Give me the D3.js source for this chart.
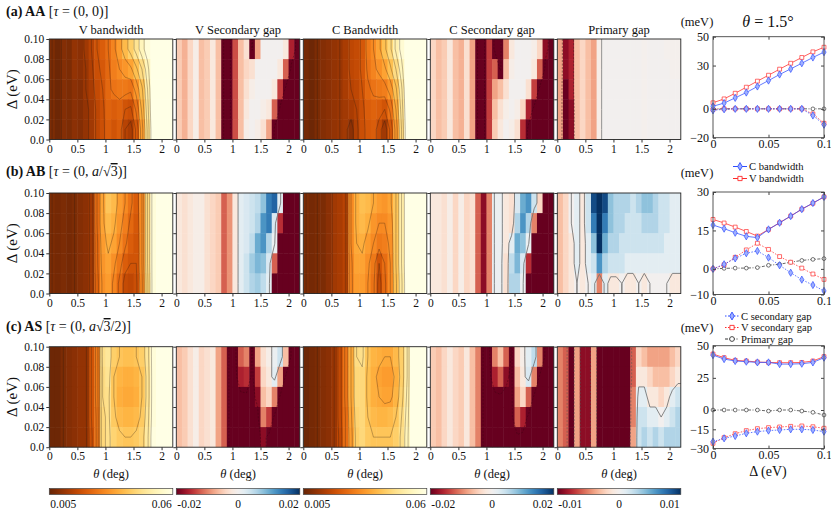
<!DOCTYPE html>
<html><head><meta charset="utf-8">
<script src="https://cdn.jsdelivr.net/npm/d3@7"></script>
<style>
body{margin:0;background:#fff;}
svg text{font-family:"Liberation Serif","DejaVu Serif",serif;fill:#111;}
</style></head><body>
<svg id="fig" width="831" height="510"></svg>
<script>
// ---------- data ----------
// heatmap cells: left edge of each theta cell (deg), bottom edge of each Delta row (eV), top row first
const thetaCells = [0,0.1,0.2,0.3,0.4,0.5,0.6,0.7,0.8,0.9,1.0,1.1,1.2,1.3,1.4,1.5,1.6,1.7,1.8,1.9,2.0,2.1];
const deltaCells = [0.08,0.06,0.04,0.02,0.0];
const thetaTicks = [0,0.5,1,1.5,2];
const thetaTickLabels = ["0","0.5","1","1.5","2"];
const deltaTicks = [0,0.02,0.04,0.06,0.08,0.1];
const deltaTickLabels = ["0.0","0.02","0.04","0.06","0.08","0.10"];
const panelTitles = ["V bandwidth","V Secondary gap","C Bandwidth","C Secondary gap","Primary gap"];

// (a) AA
const vbwAA = [
 [.008,.006,.009,.008,.011,.010,.013,.016,.020,.022,.025,.029,.033,.038,.042,.047,.053,.058,.064,.07,.07,.07],
 [.008,.006,.009,.008,.011,.010,.012,.015,.019,.021,.024,.028,.030,.032,.034,.039,.045,.053,.063,.07,.07,.07],
 [.008,.006,.009,.008,.010,.009,.012,.014,.018,.020,.024,.026,.027,.027,.026,.032,.039,.050,.062,.07,.07,.07],
 [.008,.006,.009,.008,.010,.009,.011,.013,.017,.019,.023,.022,.023,.020,.019,.026,.036,.048,.062,.07,.07,.07],
 [.008,.006,.009,.008,.010,.009,.011,.013,.017,.019,.022,.020,.022,.016,.014,.021,.033,.046,.061,.07,.07,.07]];
const vsgAA = [
 [-.005,-.007,-.004,-.001,-.006,-.005,-.002,-.006,-.02,-.02,-.013,-.006,-.003,-.02,-.008,0,0,0,0,-.002,-.016,-.02],
 [-.005,-.007,-.004,-.001,-.006,-.005,-.002,-.006,-.02,-.02,-.013,-.006,-.004,-.003,0,0,0,0,-.002,-.012,-.02,-.02],
 [-.005,-.007,-.004,-.001,-.006,-.005,-.002,-.006,-.02,-.02,-.013,-.006,-.003,-.001,0,0,0,-.002,-.014,-.02,-.02,-.02],
 [-.005,-.007,-.004,-.001,-.006,-.005,-.002,-.006,-.02,-.02,-.013,-.006,-.002,0,0,-.001,-.002,-.012,-.02,-.02,-.02,-.02],
 [-.005,-.007,-.004,-.001,-.006,-.005,-.002,-.006,-.02,-.02,-.013,-.006,-.001,0,-.001,-.003,-.008,-.02,-.02,-.02,-.02,-.02]];
const cbwAA = [
 [.007,.006,.008,.009,.010,.011,.012,.014,.017,.018,.021,.027,.030,.034,.039,.044,.051,.057,.064,.07,.07,.07],
 [.007,.006,.008,.009,.010,.011,.012,.014,.017,.018,.021,.026,.029,.031,.034,.039,.045,.053,.063,.07,.07,.07],
 [.007,.006,.008,.009,.010,.011,.012,.014,.016,.017,.020,.024,.026,.027,.028,.032,.039,.049,.062,.07,.07,.07],
 [.007,.006,.008,.009,.010,.011,.012,.013,.014,.016,.019,.022,.023,.022,.020,.026,.035,.047,.061,.07,.07,.07],
 [.007,.006,.008,.009,.010,.011,.012,.013,.010,.015,.019,.021,.022,.018,.013,.021,.032,.045,.060,.07,.07,.07]];
const csgAA = [
 [-.004,-.006,-.005,-.002,-.006,-.007,-.003,-.008,-.02,-.02,-.014,-.02,-.02,-.01,-.002,0,0,0,-.001,-.004,-.018,-.02],
 [-.004,-.006,-.005,-.002,-.006,-.007,-.003,-.008,-.02,-.02,-.014,-.012,-.02,-.006,-.001,0,0,0,-.002,-.012,-.02,-.02],
 [-.004,-.006,-.005,-.002,-.006,-.007,-.003,-.008,-.02,-.02,-.014,-.008,-.006,-.003,0,0,0,-.003,-.014,-.02,-.02,-.02],
 [-.004,-.006,-.005,-.002,-.006,-.007,-.003,-.008,-.02,-.02,-.014,-.006,-.003,-.001,0,-.001,-.004,-.016,-.02,-.02,-.02,-.02],
 [-.004,-.006,-.005,-.002,-.006,-.007,-.003,-.008,-.02,-.02,-.014,-.005,-.002,0,-.001,-.003,-.015,-.02,-.02,-.02,-.02,-.02]];
const pgAA = [
 [-.004,-.009,-.008,-.003,-.002,-.003,-.004,-.0005,0,0,0,0,0,0,0,-.0002,0,0,0,-.0002,-.0002,-.0002],
 [-.004,-.009,-.008,-.003,-.002,-.003,-.004,-.0005,0,0,0,0,0,0,0,-.0002,0,0,0,0,-.0002,-.0002],
 [-.004,-.010,-.008,-.003,-.002,-.003,-.004,-.0005,0,0,0,0,0,0,0,-.0002,0,0,0,0,0,0],
 [-.004,-.010,-.009,-.003,-.002,-.003,-.004,-.0005,0,0,0,0,0,0,0,-.0002,0,0,0,0,0,0],
 [-.004,-.010,-.009,-.003,-.002,-.003,-.004,-.0005,0,0,0,0,0,0,0,-.0002,0,0,0,0,0,0]];

// (b) AB
const vbwAB = [
 [.008,.007,.008,.007,.008,.009,.010,.013,.025,.034,.040,.038,.033,.030,.026,.022,.030,.045,.058,.07,.07,.07],
 [.008,.007,.008,.007,.008,.009,.010,.013,.025,.034,.038,.036,.032,.028,.024,.021,.030,.045,.058,.07,.07,.07],
 [.008,.007,.008,.007,.008,.009,.010,.013,.024,.033,.036,.034,.030,.026,.022,.020,.030,.045,.058,.07,.07,.07],
 [.008,.007,.008,.007,.008,.009,.010,.013,.024,.032,.034,.031,.027,.022,.020,.020,.030,.045,.058,.07,.07,.07],
 [.008,.007,.008,.007,.008,.009,.010,.013,.023,.031,.033,.029,.024,.018,.017,.019,.029,.044,.058,.07,.07,.07]];
const vsgAB = [
 [-.002,-.003,-.002,-.001,-.001,-.003,-.004,-.005,-.012,-.009,-.002,.002,.003,.004,.005,.008,.014,.016,.002,-.02,-.02,-.02],
 [-.002,-.003,-.002,-.001,-.001,-.003,-.004,-.005,-.012,-.009,-.002,.002,.003,.004,.006,.012,.014,.003,-.015,-.02,-.02,-.02],
 [-.002,-.003,-.002,-.001,-.001,-.003,-.004,-.005,-.012,-.009,-.002,.002,.003,.005,.010,.012,.006,.001,-.02,-.02,-.02,-.02],
 [-.002,-.003,-.002,-.001,-.001,-.003,-.004,-.005,-.012,-.009,-.002,.002,.004,.007,.009,.008,.003,-.012,-.02,-.02,-.02,-.02],
 [-.002,-.003,-.002,-.001,-.001,-.003,-.004,-.005,-.012,-.009,-.002,.002,.004,.006,.007,.005,.002,-.02,-.02,-.02,-.02,-.02]];
const cbwAB = [
 [.008,.007,.008,.008,.010,.013,.014,.016,.030,.036,.039,.038,.035,.033,.032,.034,.040,.050,.060,.07,.07,.07],
 [.008,.007,.008,.008,.010,.013,.014,.016,.030,.036,.038,.036,.032,.030,.030,.032,.040,.050,.060,.07,.07,.07],
 [.008,.007,.008,.008,.010,.013,.014,.016,.030,.035,.036,.033,.030,.027,.028,.031,.040,.050,.060,.07,.07,.07],
 [.008,.007,.008,.008,.010,.013,.014,.016,.029,.034,.034,.031,.027,.020,.025,.030,.040,.050,.060,.07,.07,.07],
 [.008,.007,.008,.008,.010,.013,.014,.016,.029,.033,.033,.030,.026,.018,.024,.030,.039,.049,.060,.07,.07,.07]];
const csgAB = [
 [-.002,-.002,-.003,-.001,-.004,-.001,-.004,-.003,-.012,-.018,-.010,.001,.001,-.002,-.003,.003,.010,.012,.004,-.004,-.02,-.02],
 [-.002,-.002,-.003,-.001,-.004,-.001,-.004,-.003,-.012,-.018,-.010,.001,.001,-.002,-.003,.006,.012,.006,-.01,-.02,-.02,-.02],
 [-.002,-.002,-.003,-.001,-.004,-.001,-.004,-.003,-.012,-.018,-.010,.001,.001,-.002,.002,.010,.008,.001,-.02,-.02,-.02,-.02],
 [-.002,-.002,-.003,-.001,-.004,-.001,-.004,-.003,-.012,-.018,-.010,.001,.001,-.003,.005,.009,.003,-.015,-.02,-.02,-.02,-.02],
 [-.002,-.002,-.003,-.001,-.004,-.001,-.004,-.003,-.012,-.018,-.010,.001,.001,-.003,.006,.006,.001,-.02,-.02,-.02,-.02,-.02]];
const pgAB = [
 [-.003,-.002,.000,.001,-.001,.002,.009,.010,.009,.004,.003,.003,.003,.002,.003,.004,.004,.003,.002,.002,.001,.001],
 [-.003,-.002,.000,.001,-.001,.002,.007,.010,.007,.004,.003,.003,.002,.002,.002,.003,.003,.003,.002,.002,.001,.001],
 [-.003,-.002,-.001,.001,-.001,.001,.004,.010,.005,.003,.003,.002,.002,.002,.002,.002,.002,.002,.002,.001,.001,.001],
 [-.003,-.002,-.001,.001,-.001,.001,.002,.006,.003,.002,.002,.002,.001,.001,.001,.001,.001,.001,.001,.001,.001,.001],
 [-.003,-.002,-.001,.000,-.001,.000,.001,-.005,.001,-.001,-.001,.000,-.001,-.001,.000,-.001,.000,.000,.000,.000,-.001,-.001]];

// (c) AS
const vbwAS = [
 [.006,.006,.008,.009,.010,.011,.011,.020,.027,.046,.048,.042,.040,.039,.039,.040,.042,.048,.058,.07,.07,.07],
 [.006,.006,.008,.009,.010,.011,.011,.020,.027,.045,.047,.040,.037,.036,.036,.037,.040,.047,.058,.07,.07,.07],
 [.006,.006,.008,.009,.010,.011,.011,.020,.027,.045,.046,.040,.036,.035,.035,.036,.040,.047,.058,.07,.07,.07],
 [.006,.006,.008,.009,.010,.011,.011,.020,.026,.044,.046,.041,.038,.037,.037,.038,.041,.048,.058,.07,.07,.07],
 [.006,.006,.008,.009,.010,.011,.011,.019,.026,.044,.046,.043,.041,.040,.040,.041,.043,.049,.059,.07,.07,.07]];
const vsgAS = [
 [-.006,-.005,-.003,-.001,-.004,-.003,-.002,-.008,-.012,-.02,-.02,-.012,-.01,-.02,-.008,-.003,-.001,.001,.004,-.006,-.02,-.02],
 [-.006,-.005,-.003,-.001,-.004,-.003,-.002,-.008,-.012,-.02,-.02,-.016,-.015,-.02,-.014,-.004,-.002,.002,-.008,-.02,-.02,-.02],
 [-.006,-.005,-.003,-.001,-.004,-.003,-.002,-.008,-.012,-.02,-.02,-.02,-.02,-.02,-.018,-.006,-.004,-.01,-.02,-.02,-.02,-.02],
 [-.006,-.005,-.003,-.001,-.004,-.003,-.002,-.008,-.012,-.02,-.02,-.02,-.02,-.02,-.02,-.01,-.014,-.02,-.02,-.02,-.02,-.02],
 [-.006,-.005,-.003,-.001,-.004,-.003,-.002,-.008,-.012,-.02,-.02,-.02,-.02,-.02,-.02,-.018,-.02,-.02,-.02,-.02,-.02,-.02]];
const cbwAS = [
 [.006,.007,.008,.009,.010,.012,.018,.026,.035,.045,.046,.040,.037,.036,.035,.035,.038,.042,.050,.065,.07,.07],
 [.006,.007,.008,.009,.010,.012,.018,.026,.035,.044,.044,.039,.036,.034,.033,.033,.036,.042,.050,.065,.07,.07],
 [.006,.007,.008,.009,.010,.012,.018,.026,.035,.044,.044,.039,.036,.035,.034,.034,.037,.043,.051,.065,.07,.07],
 [.006,.007,.008,.009,.010,.012,.018,.025,.034,.043,.044,.040,.038,.037,.037,.038,.040,.045,.052,.065,.07,.07],
 [.006,.007,.008,.009,.010,.012,.017,.025,.033,.042,.044,.041,.040,.040,.040,.040,.042,.046,.053,.065,.07,.07]];
const csgAS = [
 [-.005,-.006,-.004,-.002,-.004,-.005,-.002,-.006,-.01,-.02,-.02,-.01,-.006,-.012,-.02,-.004,-.001,.002,.005,-.01,-.02,-.02],
 [-.005,-.006,-.004,-.002,-.004,-.005,-.002,-.006,-.01,-.02,-.02,-.016,-.012,-.018,-.02,-.006,-.002,.003,-.01,-.02,-.02,-.02],
 [-.005,-.006,-.004,-.002,-.004,-.005,-.002,-.006,-.01,-.02,-.02,-.02,-.02,-.02,-.02,-.008,-.004,-.012,-.02,-.02,-.02,-.02],
 [-.005,-.006,-.004,-.002,-.004,-.005,-.002,-.006,-.01,-.02,-.02,-.02,-.02,-.02,-.02,-.012,-.016,-.02,-.02,-.02,-.02,-.02],
 [-.005,-.006,-.004,-.002,-.004,-.005,-.002,-.006,-.01,-.02,-.02,-.02,-.02,-.02,-.02,-.02,-.02,-.02,-.02,-.02,-.02,-.02]];
const pgAS = [
 [-.005,-.006,-.01,-.004,-.009,-.009,-.004,-.01,-.01,-.01,-.01,-.01,-.01,-.006,-.002,-.003,-.004,-.004,-.004,-.004,-.003,-.002],
 [-.005,-.006,-.01,-.004,-.009,-.009,-.004,-.01,-.01,-.01,-.01,-.01,-.01,-.006,-.001,-.001,-.002,-.003,-.003,-.003,-.002,-.001],
 [-.005,-.006,-.01,-.004,-.009,-.009,-.004,-.01,-.01,-.01,-.01,-.01,-.01,-.005,.001,.001,-.001,-.001,-.002,-.001,.001,.002],
 [-.005,-.006,-.01,-.004,-.009,-.009,-.004,-.01,-.01,-.01,-.01,-.01,-.01,-.005,.002,.002,.001,.001,.000,.001,.002,.003],
 [-.005,-.006,-.01,-.004,-.009,-.009,-.004,-.01,-.01,-.01,-.01,-.01,-.01,-.004,.002,.003,.002,.003,.002,.003,.003,.003]];

// right column, theta = 1.5 deg, values in meV
const deltaVals = [0,0.01,0.02,0.03,0.04,0.05,0.06,0.07,0.08,0.09,0.1];
const cBwAA = [1.8,4,7.6,11.3,15.5,19.6,23.8,27.7,31.6,35.6,39.3];
const vBwAA = [4.2,6.9,10.8,15,19.2,23.3,27.5,31.6,35.6,39.5,42.7];
const cSgAA = [-1,-0.3,0,0,0,0,0,0,0,-4.6,-11];
const vSgAA = [-0.5,0,0,0,0,0,0,0,0,-3.5,-10];
const pGapAA = [0,0,0,0,0,0,0,0,0,0,0];
const cBwAB = [17.1,15.7,14.1,12.7,12.2,15.4,18,20.6,23.3,25.7,28.1];
const vBwAB = [19.3,17.9,16.3,14.6,12.8,15.4,18,20.6,23.3,25.6,28.1];
const cSgAB = [0,1.8,4.1,6.1,7,4.4,1.4,-1.5,-4.2,-6.3,-8.6];
const vSgAB = [0,1.6,4.5,7.4,10,7.6,4.8,2.6,0.3,-2,-4.1];
const pGapAB = [0,0.2,0.3,0.3,0.5,1.4,1.8,2.6,3.3,3.7,4];
const cBwAS = [42.7,39.6,38.1,37.6,37,37,35.7,35.7,36,37,40.7];
const vBwAS = [43.5,40.7,38.6,38.1,37.3,37,36.8,36.8,37,38.1,41.5];
const cSgAS = [-24.6,-22,-20.2,-18.1,-16.8,-16,-15.5,-15,-15,-15.5,-16.8];
const vSgAS = [-25.9,-21.5,-18.4,-16,-14.5,-13.7,-13.2,-12.7,-12.4,-13,-14.2];
const pGapAS = [0,0,0,0,0,-0.8,0,0,-0.8,-1.8,-3.9];
const meVDomains = [[-20,50],[-10,30],[-30,50]];
const meVTicks = [[50,30,0,-20],[30,15,0,-10],[50,25,0,-15,-30]];
const deltaLineTicks = [0,0.05,0.1];
const deltaLineTickLabels = ["0","0.05","0.1"];

const colorbarLabels = {
  bw: ["0.005","","0.06"],
  sg: ["-0.02","0","0.02"],
  pg: ["-0.01","0","0.01"]
};

// ---------- layout / style ----------
const panelLeft = [49.3,176.3,303.3,430.3,557.3];
const panelW = 123.5, panelH = 100.5;
const rowTop = [39,193,346.7];
const kinds = ["bw","sg","bw","sg","pg"];
const lineLeft = 713, lineRight = 824;
const lineTop = [36.7,192,345.7], lineBottom = [137.7,294.5,448.6];
const blue = "#2f4dff", red = "#ff2a2a";

const rows = [
  {grids:[vbwAA,vsgAA,cbwAA,csgAA,pgAA],
   lines:{cBw:cBwAA,vBw:vBwAA,cSg:cSgAA,vSg:vSgAA,pGap:pGapAA}},
  {grids:[vbwAB,vsgAB,cbwAB,csgAB,pgAB],
   lines:{cBw:cBwAB,vBw:vBwAB,cSg:cSgAB,vSg:vSgAB,pGap:pGapAB}},
  {grids:[vbwAS,vsgAS,cbwAS,csgAS,pgAS],
   lines:{cBw:cBwAS,vBw:vBwAS,cSg:cSgAS,vSg:vSgAS,pGap:pGapAS}}
];

// contour levels per row/kind
const bwLevels = [0.008,0.012,0.016,0.02,0.025,0.03,0.035,0.04,0.045,0.05,0.055];
const contourSpec = [
  {bw:[{t:bwLevels,c:"#2a1a10",w:0.6,o:0.5}],
   sg:[{t:[-0.019],c:"#3a0010",w:0.6,o:0.7,dash:"2,1.5"}],
   pg:[{t:[-0.0003],c:"#888",w:0.9,o:1},{t:[-0.006],c:"#442222",w:0.7,o:0.8,dash:"2,1.5"}]},
  {bw:[{t:bwLevels,c:"#2a1a10",w:0.6,o:0.5}],
   sg:[{t:[0],c:"#777",w:0.9,o:1}],
   pg:[{t:[0],c:"#777",w:0.9,o:1}]},
  {bw:[{t:bwLevels,c:"#2a1a10",w:0.6,o:0.5}],
   sg:[{t:[0],c:"#777",w:0.9,o:1},{t:[-0.019],c:"#3a0010",w:0.6,o:0.7,dash:"2,1.5"}],
   pg:[{t:[0],c:"#777",w:0.9,o:1},{t:[-0.007],c:"#555",w:0.7,o:0.8,dash:"2,1.5"}]}
];

const colorScales = {
  bw: d3.scaleSequential(t => d3.interpolateYlOrBr(1 - t)).domain([0.005,0.06]).clamp(true),
  sg: d3.scaleSequential(d3.interpolateRdBu).domain([-0.02,0.02]).clamp(true),
  pg: d3.scaleSequential(d3.interpolateRdBu).domain([-0.01,0.01]).clamp(true)
};

const svg = d3.select("#fig");
const defs = svg.append("defs");

// ---------- row titles ----------
const rowTitleY = [16,176,331];
const rowTitleParts = [
  [["(a) AA","b"],[" [",""],["τ","i"],[" = (0, 0)]",""]],
  [["(b) AB","b"],[" [",""],["τ","i"],[" = (0, ",""],["a","i"],["/√",""],["3","o"],[")]",""]],
  [["(c) AS","b"],[" [",""],["τ","i"],[" = (0, ",""],["a","i"],["√",""],["3","o"],["/2)]",""]]
];
rowTitleParts.forEach((parts, r) => {
  const t = svg.append("text").attr("x", 6).attr("y", rowTitleY[r]).attr("font-size", 14);
  parts.forEach(([s, st]) => {
    const ts = t.append("tspan").text(s);
    if (st === "b") ts.attr("font-weight", "bold");
    if (st === "i") ts.attr("font-style", "italic");
    if (st === "o") ts.style("text-decoration", "overline");
  });
});

// pad the grid with copies of its edge cells so contour outlines fall outside the frame
function padGrid(grid) {
  const wide = grid.map(rw => [rw[0]].concat(rw, [rw[rw.length - 1]]));
  return [wide[0]].concat(wide, [wide[wide.length - 1]]);
}

// ---------- heatmaps ----------
function drawHeat(r, c) {
  const grid = rows[r].grids[c];
  const kind = kinds[c];
  const color = colorScales[kind];
  const x = d3.scaleLinear().domain([0,2.2]).range([panelLeft[c], panelLeft[c] + panelW]);
  const y = d3.scaleLinear().domain([0,0.1]).range([rowTop[r] + panelH, rowTop[r]]);
  const g = svg.append("g");
  const clipId = "clip" + r + "_" + c;
  defs.append("clipPath").attr("id", clipId).append("rect")
    .attr("x", x(0)).attr("y", y(0.1)).attr("width", x(2.2) - x(0)).attr("height", y(0) - y(0.1));
  const inner = g.append("g").attr("clip-path", "url(#" + clipId + ")");

  const cw = x(0.1) - x(0), ch = y(0) - y(0.02);
  grid.forEach((rowVals, i) => {
    inner.selectAll(null).data(rowVals).enter().append("rect")
      .attr("x", (d, j) => x(thetaCells[j]))
      .attr("y", y(deltaCells[i] + 0.02))
      .attr("width", cw + 0.5)
      .attr("height", ch + 0.5)
      .attr("fill", d => color(d));
  });

  // contours through the grid
  const padded = padGrid(grid);
  const nx = padded[0].length, ny = padded.length;
  const flat = [].concat(...padded);
  const proj = d3.geoTransform({
    point: function(px, py) { this.stream.point(x((px - 1) * 0.1), y(0.1 - (py - 1) * 0.02)); }
  });
  const path = d3.geoPath(proj);
  contourSpec[r][kind].forEach(spec => {
    const cs = d3.contours().size([nx, ny]).thresholds(spec.t)(flat);
    inner.selectAll(null).data(cs).enter().append("path")
      .attr("d", path)
      .attr("fill", "none")
      .attr("stroke", spec.c)
      .attr("stroke-width", spec.w)
      .attr("stroke-opacity", spec.o)
      .attr("stroke-dasharray", spec.dash || null);
  });

  // frame
  g.append("rect").attr("x", x(0)).attr("y", y(0.1))
    .attr("width", x(2.2) - x(0)).attr("height", y(0) - y(0.1))
    .attr("fill", "none").attr("stroke", "#222").attr("stroke-width", 0.9);

  // axes
  const ax = g.append("g").attr("transform", "translate(0," + y(0) + ")")
    .call(d3.axisBottom(x).tickValues(thetaTicks).tickSize(3).tickPadding(2)
      .tickFormat((d, i) => thetaTickLabels[i]));
  ax.select(".domain").remove();
  ax.selectAll("text").attr("font-size", 11.5).attr("font-family", "Liberation Serif");
  const ay = g.append("g").attr("transform", "translate(" + x(0) + ",0)")
    .call(d3.axisLeft(y).tickValues(deltaTicks).tickSize(3).tickPadding(2)
      .tickFormat((d, i) => c === 0 ? deltaTickLabels[i] : ""));
  ay.select(".domain").remove();
  ay.selectAll("text").attr("font-size", 11.5).attr("font-family", "Liberation Serif");
  g.selectAll(".tick line").attr("stroke", "#333");

  if (r === 0) {
    g.append("text").attr("x", (x(0) + x(2.2)) / 2).attr("y", y(0.1) - 5)
      .attr("text-anchor", "middle").attr("font-size", 12.5).text(panelTitles[c]);
  }
  if (r === 2) {
    const t = g.append("text").attr("x", (x(0) + x(2.2)) / 2).attr("y", y(0) + 31)
      .attr("text-anchor", "middle").attr("font-size", 12.5);
    t.append("tspan").attr("font-style", "italic").text("θ");
    t.append("tspan").text(" (deg)");
  }
  if (c === 0) {
    svg.append("text")
      .attr("transform", "translate(17," + ((y(0) + y(0.1)) / 2) + ") rotate(-90)")
      .attr("text-anchor", "middle").attr("font-size", 15).text("Δ (eV)");
  }
}
for (let r = 0; r < 3; r++) for (let c = 0; c < 5; c++) drawHeat(r, c);

// ---------- colorbars ----------
["bw","sg","pg"].forEach(k => {
  const grad = defs.append("linearGradient").attr("id", "grad_" + k);
  const dom = colorScales[k].domain();
  d3.range(0, 1.0001, 0.05).forEach(f => {
    grad.append("stop").attr("offset", f)
      .attr("stop-color", colorScales[k](dom[0] + f * (dom[1] - dom[0])));
  });
});
kinds.forEach((k, c) => {
  const x0 = panelLeft[c], x1 = panelLeft[c] + panelW;
  svg.append("rect").attr("x", x0).attr("y", 488.5).attr("width", x1 - x0).attr("height", 6)
    .attr("fill", "url(#grad_" + k + ")").attr("stroke", "#444").attr("stroke-width", 0.7);
  const labs = colorbarLabels[k];
  const pos = [[x0 + 1, "start"], [(x0 + x1) / 2, "middle"], [x1 - 1, "end"]];
  labs.forEach((s, i) => {
    if (!s) return;
    svg.append("text").attr("x", pos[i][0]).attr("y", 507.5).attr("text-anchor", pos[i][1])
      .attr("font-size", 11.5).text(s);
  });
});

// ---------- right column line plots ----------
const seriesDefs = [
  {key:"cBw", color:blue, dash:null, sym:d3.symbolDiamond, fill:"#9fb0ff"},
  {key:"vBw", color:red, dash:null, sym:d3.symbolSquare, fill:"#fff"},
  {key:"cSg", color:blue, dash:"1.5,1.5", sym:d3.symbolDiamond, fill:"#9fb0ff"},
  {key:"vSg", color:red, dash:"1.5,1.5", sym:d3.symbolSquare, fill:"#fff"},
  {key:"pGap", color:"#333", dash:"3,1.5,1,1.5", sym:d3.symbolCircle, fill:"#fff"}
];
function drawLines(r) {
  const x = d3.scaleLinear().domain([0,0.1]).range([lineLeft, lineRight]);
  const y = d3.scaleLinear().domain(meVDomains[r]).range([lineBottom[r], lineTop[r]]);
  const g = svg.append("g");
  const line = d3.line().x((d, i) => x(deltaVals[i])).y(d => y(d));
  seriesDefs.slice().reverse().forEach(s => {
    const vals = rows[r].lines[s.key];
    g.append("path").attr("d", line(vals)).attr("fill", "none")
      .attr("stroke", s.color).attr("stroke-width", 1).attr("stroke-opacity", 0.75)
      .attr("stroke-dasharray", s.dash);
    g.selectAll(null).data(vals).enter().append("path")
      .attr("d", d3.symbol().type(s.sym).size(s.sym === d3.symbolCircle ? 11 : 15))
      .attr("transform", (d, i) => "translate(" + x(deltaVals[i]) + "," + y(d) + ")")
      .attr("fill", s.fill).attr("stroke", s.color).attr("stroke-width", 0.8)
      .attr("stroke-opacity", 0.85);
  });
  g.append("rect").attr("x", lineLeft).attr("y", lineTop[r])
    .attr("width", lineRight - lineLeft).attr("height", lineBottom[r] - lineTop[r])
    .attr("fill", "none").attr("stroke", "#444").attr("stroke-width", 0.9);
  const ax = g.append("g").attr("transform", "translate(0," + lineBottom[r] + ")")
    .call(d3.axisBottom(x).tickValues(deltaLineTicks).tickSize(-3).tickPadding(2)
      .tickFormat((d, i) => deltaLineTickLabels[i]));
  const axt = g.append("g").attr("transform", "translate(0," + lineTop[r] + ")")
    .call(d3.axisTop(x).tickValues(deltaLineTicks).tickSize(-3).tickFormat(""));
  const ay = g.append("g").attr("transform", "translate(" + lineLeft + ",0)")
    .call(d3.axisLeft(y).tickValues(meVTicks[r]).tickSize(-3).tickPadding(4)
      .tickFormat(d => d < 0 ? "\u2212" + Math.abs(d) : d));
  const ayr = g.append("g").attr("transform", "translate(" + lineRight + ",0)")
    .call(d3.axisRight(y).tickValues(meVTicks[r]).tickSize(-3).tickFormat(""));
  [ax, axt, ay, ayr].forEach(a => {
    a.select(".domain").remove();
    a.selectAll(".tick line").attr("stroke", "#444");
    a.selectAll("text").attr("font-size", 12).attr("font-family", "Liberation Serif");
  });
  svg.append("text").attr("x", 697).attr("y", [26, 177, 332][r]).attr("text-anchor", "middle")
    .attr("font-size", 12.5).text("(meV)");
}
for (let r = 0; r < 3; r++) drawLines(r);

// theta title and Delta label
const tt = svg.append("text").attr("x", 768).attr("y", 27).attr("text-anchor", "middle").attr("font-size", 16);
tt.append("tspan").attr("font-style", "italic").text("θ");
tt.append("tspan").text(" = 1.5°");
svg.append("text").attr("x", 768).attr("y", 476).attr("text-anchor", "middle")
  .attr("font-size", 14).text("Δ (eV)");

// legends
function legend(entries, x0, xt, ys) {
  entries.forEach((e, i) => {
    const s = seriesDefs.find(d => d.key === e.key);
    svg.append("line").attr("x1", x0).attr("x2", x0 + 14).attr("y1", ys[i]).attr("y2", ys[i])
      .attr("stroke", s.color).attr("stroke-width", 1).attr("stroke-dasharray", s.dash);
    svg.append("path").attr("d", d3.symbol().type(s.sym).size(18))
      .attr("transform", "translate(" + (x0 + 7) + "," + ys[i] + ")")
      .attr("fill", s.fill).attr("stroke", s.color).attr("stroke-width", 0.9);
    svg.append("text").attr("x", xt).attr("y", ys[i] + 3.5).attr("font-size", 10.6).text(e.label);
  });
}
legend([{key:"cBw",label:"C bandwidth"},{key:"vBw",label:"V bandwidth"}], 733, 749, [166.5, 178.5]);
legend([{key:"cSg",label:"C secondary gap"},{key:"vSg",label:"V secondary gap"},{key:"pGap",label:"Primary gap"}],
  725, 741, [316, 327.5, 339]);
</script>
</body></html>
